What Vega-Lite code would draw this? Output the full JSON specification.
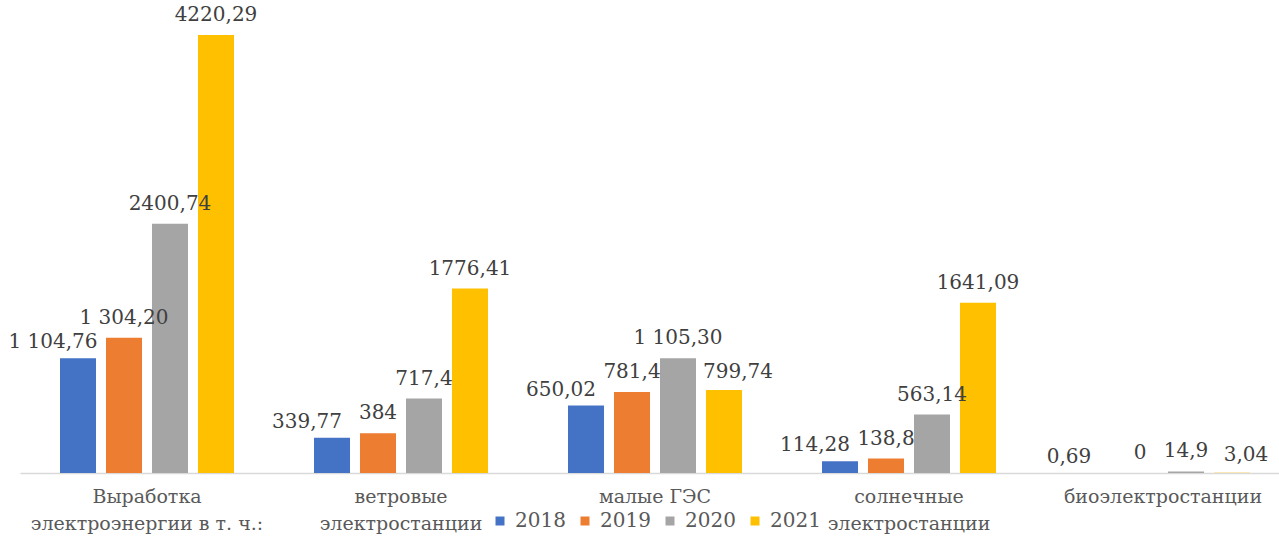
{
  "$schema": "https://vega.github.io/schema/vega-lite/v6.json",
  "width": 1259,
  "height": 473,
  "autosize": {"type": "none"},
  "padding": {"left": 20, "top": 0, "right": 0, "bottom": 69},
  "background": "white",
  "config": {
    "view": {"stroke": null},
    "font": "DejaVu Serif"
  },
  "data": {
    "values": [
      {"cat": "Выработка|электроэнергии в т. ч.:", "year": "2018", "value": 1104.76, "label": "1 104,76"},
      {"cat": "Выработка|электроэнергии в т. ч.:", "year": "2019", "value": 1304.20, "label": "1 304,20"},
      {"cat": "Выработка|электроэнергии в т. ч.:", "year": "2020", "value": 2400.74, "label": "2400,74"},
      {"cat": "Выработка|электроэнергии в т. ч.:", "year": "2021", "value": 4220.29, "label": "4220,29"},
      {"cat": "ветровые|электростанции", "year": "2018", "value": 339.77, "label": "339,77"},
      {"cat": "ветровые|электростанции", "year": "2019", "value": 384, "label": "384"},
      {"cat": "ветровые|электростанции", "year": "2020", "value": 717.4, "label": "717,4"},
      {"cat": "ветровые|электростанции", "year": "2021", "value": 1776.41, "label": "1776,41"},
      {"cat": "малые ГЭС", "year": "2018", "value": 650.02, "label": "650,02"},
      {"cat": "малые ГЭС", "year": "2019", "value": 781.4, "label": "781,4"},
      {"cat": "малые ГЭС", "year": "2020", "value": 1105.30, "label": "1 105,30"},
      {"cat": "малые ГЭС", "year": "2021", "value": 799.74, "label": "799,74"},
      {"cat": "солнечные|электростанции", "year": "2018", "value": 114.28, "label": "114,28"},
      {"cat": "солнечные|электростанции", "year": "2019", "value": 138.8, "label": "138,8"},
      {"cat": "солнечные|электростанции", "year": "2020", "value": 563.14, "label": "563,14"},
      {"cat": "солнечные|электростанции", "year": "2021", "value": 1641.09, "label": "1641,09"},
      {"cat": "биоэлектростанции", "year": "2018", "value": 0.69, "label": "0,69"},
      {"cat": "биоэлектростанции", "year": "2019", "value": 0, "label": "0"},
      {"cat": "биоэлектростанции", "year": "2020", "value": 14.9, "label": "14,9"},
      {"cat": "биоэлектростанции", "year": "2021", "value": 3.04, "label": "3,04"}
    ]
  },
  "encoding": {
    "x": {
      "field": "cat",
      "type": "nominal",
      "sort": null,
      "scale": {"range": [0, 1270], "paddingInner": 0.315, "paddingOuter": 0.1575},
      "axis": {
        "title": null,
        "labelAngle": 0,
        "ticks": false,
        "domainColor": "#d9d9d9",
        "domainWidth": 1.5,
        "labelFont": "DejaVu Serif",
        "labelFontSize": 19,
        "labelColor": "#595959",
        "labelPadding": 14,
        "labelLineHeight": 27,
        "labelLimit": 0,
        "labelExpr": "split(datum.label, '|')"
      }
    },
    "xOffset": {
      "field": "year",
      "type": "nominal",
      "scale": {"paddingInner": 0.217, "paddingOuter": 0}
    },
    "y": {
      "field": "value",
      "type": "quantitative",
      "scale": {"domain": [0, 4557], "nice": false},
      "axis": null
    }
  },
  "layer": [
    {
      "mark": {"type": "bar"},
      "encoding": {
        "color": {
          "field": "year",
          "type": "nominal",
          "scale": {"domain": ["2018", "2019", "2020", "2021"], "range": ["#4472C4", "#ED7D31", "#A5A5A5", "#FFC000"]},
          "legend": {
            "title": null,
            "orient": "none",
            "legendX": 470,
            "legendY": 511,
            "direction": "horizontal",
            "symbolType": "square",
            "symbolSize": 81,
            "symbolStrokeWidth": 0,
            "labelFont": "DejaVu Serif",
            "labelFontSize": 20,
            "labelColor": "#595959",
            "labelOffset": 5,
            "columnPadding": 9
          }
        }
      }
    },
    {
      "transform": [{"filter": "datum.year == '2018'"}],
      "mark": {"type": "text", "font": "DejaVu Serif", "baseline": "alphabetic", "dx": -25, "dy": -10, "fontSize": 20, "color": "#404040"},
      "encoding": {"text": {"field": "label", "type": "nominal"}}
    },
    {
      "transform": [{"filter": "datum.year == '2019' || datum.year == '2020' || (datum.year == '2021' && datum.value >= 1000)"}],
      "mark": {"type": "text", "font": "DejaVu Serif", "baseline": "alphabetic", "dy": -14, "fontSize": 20, "color": "#404040"},
      "encoding": {"text": {"field": "label", "type": "nominal"}}
    },
    {
      "transform": [{"filter": "datum.year == '2021' && datum.value < 1000"}],
      "mark": {"type": "text", "font": "DejaVu Serif", "baseline": "alphabetic", "dx": 14, "dy": -12, "fontSize": 20, "color": "#404040"},
      "encoding": {"text": {"field": "label", "type": "nominal"}}
    }
  ]
}
